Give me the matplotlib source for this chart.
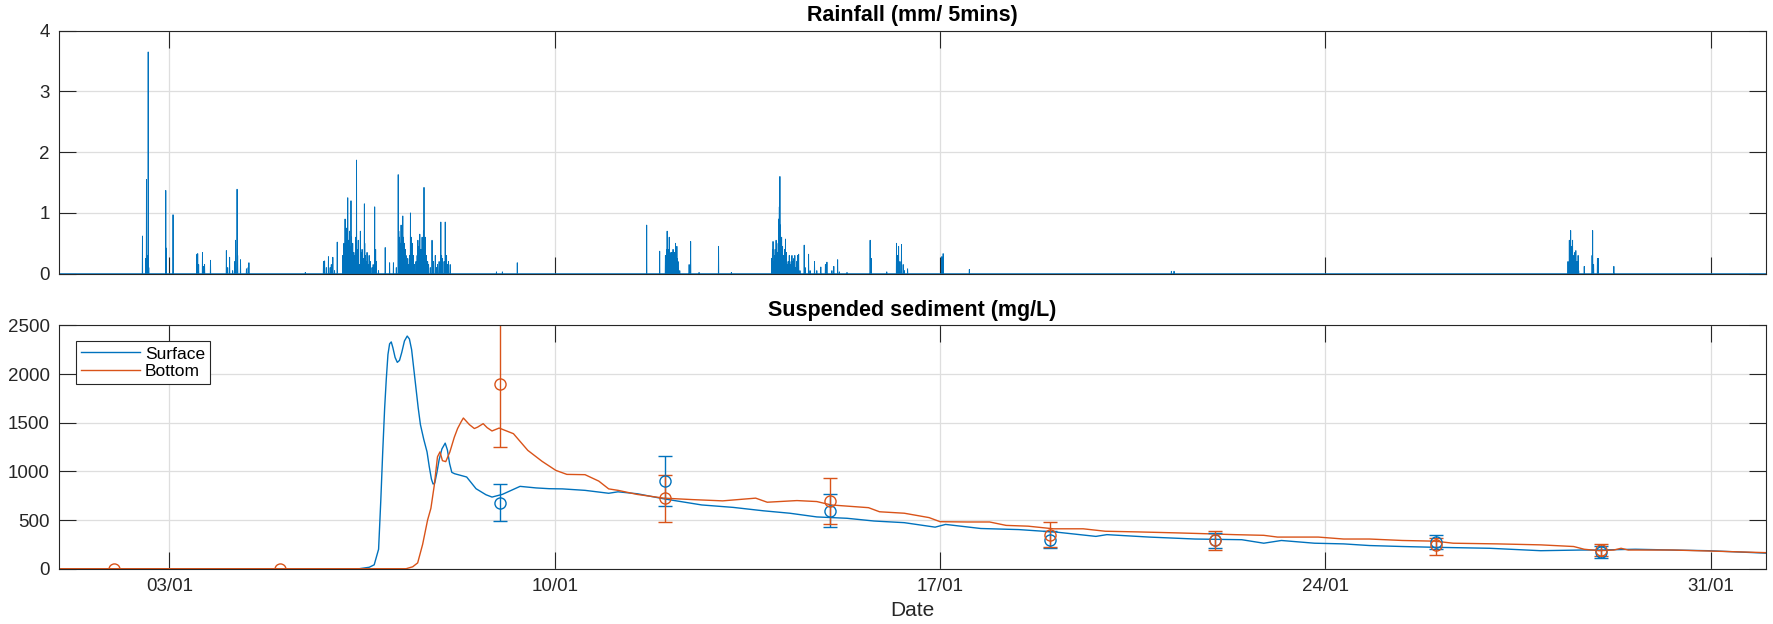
import numpy as np
import matplotlib
matplotlib.use("Agg")
import matplotlib.pyplot as plt
import matplotlib.dates as mdates

# ---------------- data (times = days since 01/01 00:00) ----------------
start = np.datetime64("2016-01-01T00:00")

rain_days = [
    1.512, 1.570, 1.585, 1.600, 1.614, 1.625, 1.935, 1.945, 2.067,
    2.500, 2.515, 2.530, 2.600, 2.620, 2.640, 2.745,
    3.035, 3.060, 3.095, 3.150, 3.186, 3.200, 3.228, 3.240, 3.290, 3.400, 3.430, 3.445,
    4.470,
    4.80, 4.82, 4.85, 4.89, 4.92, 4.94, 4.97, 5.00, 5.05,
    5.15, 5.17, 5.19, 5.20, 5.22, 5.24, 5.25, 5.27, 5.28, 5.30, 5.31, 5.33, 5.35, 5.37,
    5.385, 5.40, 5.41, 5.43, 5.45, 5.47, 5.485, 5.50, 5.52, 5.54, 5.55, 5.56, 5.575,
    5.59, 5.61, 5.63, 5.65, 5.68, 5.70, 5.73, 5.745, 5.76, 5.80,
    5.92, 6.00, 6.07, 6.12,
    6.155, 6.165, 6.18, 6.195, 6.21, 6.225, 6.24, 6.255, 6.27, 6.285, 6.30, 6.315, 6.33,
    6.35, 6.365, 6.38, 6.395, 6.41, 6.43, 6.45, 6.48, 6.50, 6.515, 6.53, 6.55, 6.565,
    6.58, 6.59, 6.60, 6.615, 6.625, 6.635, 6.65, 6.67, 6.69, 6.71, 6.74, 6.77, 6.785,
    6.80, 6.83, 6.85, 6.87, 6.90, 6.915, 6.93, 6.945, 6.96, 6.99, 7.01, 7.02, 7.035,
    7.05, 7.07, 7.10,
    7.94, 8.05, 8.32,
    10.67, 10.905,
    11.01, 11.02, 11.03, 11.04, 11.05, 11.06, 11.07, 11.08, 11.09, 11.10, 11.11, 11.12,
    11.13, 11.14, 11.15, 11.16, 11.17, 11.18, 11.195, 11.21, 11.22, 11.23, 11.24, 11.27,
    11.44, 11.47, 11.62, 11.975, 12.21,
    12.94, 12.955, 12.965, 12.98, 12.995, 13.005, 13.02, 13.03, 13.045, 13.06, 13.07,
    13.08, 13.09, 13.10, 13.11, 13.12, 13.13, 13.14, 13.15, 13.16, 13.175, 13.19, 13.20,
    13.21, 13.225, 13.24, 13.25, 13.26, 13.27, 13.285, 13.30, 13.31, 13.32, 13.33,
    13.345, 13.36, 13.37, 13.38, 13.395, 13.41, 13.42, 13.43, 13.455,
    13.53, 13.55, 13.61, 13.64, 13.72, 13.76, 13.835, 13.915, 13.945, 14.035, 14.07,
    14.14, 14.17, 14.31,
    14.73, 14.75, 15.03,
    15.21, 15.23, 15.245, 15.27, 15.30, 15.33, 15.35, 15.41,
    16.03, 16.055, 16.53,
    20.20, 20.25,
    27.405, 27.43, 27.44, 27.455, 27.465, 27.475, 27.49, 27.50, 27.51, 27.53, 27.55,
    27.57, 27.59, 27.60, 27.70, 27.845, 27.855, 27.87, 27.94, 27.96, 28.24,
]
rain_mm = [
    0.62, 0.25, 1.55, 0.30, 3.65, 0.10, 1.37, 0.42, 0.97,
    0.32, 0.33, 0.15, 0.35, 0.12, 0.15, 0.22,
    0.38, 0.10, 0.27, 0.05, 0.20, 0.55, 1.39, 0.30, 0.23, 0.08, 0.10, 0.18,
    0.02,
    0.20, 0.21, 0.10, 0.28, 0.10, 0.15, 0.27, 0.05, 0.52,
    0.30, 0.50, 0.90, 0.60, 0.75, 1.25, 0.55, 0.70, 0.45, 1.20, 0.60, 0.50, 0.35, 0.30,
    0.60, 1.87, 0.40, 0.55, 0.15, 0.70, 0.35, 0.40, 0.25, 1.15, 0.50, 0.30, 0.20,
    0.35, 0.15, 0.30, 0.20, 0.10, 0.15, 1.10, 0.40, 0.20, 0.05,
    0.43, 0.18, 0.18, 0.10,
    1.63, 0.70, 0.60, 0.50, 0.80, 0.45, 0.95, 0.60, 0.50, 0.40, 0.30, 0.20, 0.25,
    0.15, 0.30, 1.00, 0.60, 0.50, 0.30, 0.15, 0.20, 0.30, 0.55, 0.45, 0.65, 0.40,
    0.40, 0.60, 0.55, 0.70, 1.42, 0.50, 0.60, 0.30, 0.20, 0.15, 0.10, 0.55, 0.20,
    0.20, 0.30, 0.10, 0.15, 0.20, 0.10, 0.85, 0.30, 0.25, 0.20, 0.85, 0.30, 0.30,
    0.15, 0.20, 0.15,
    0.03, 0.03, 0.18,
    0.80, 0.37,
    0.30, 0.15, 0.40, 0.70, 0.30, 0.40, 0.25, 0.60, 0.20, 0.30, 0.35, 0.20,
    0.35, 0.25, 0.40, 0.30, 0.20, 0.35, 0.50, 0.30, 0.45, 0.25, 0.20, 0.05,
    0.15, 0.53, 0.02, 0.45, 0.02,
    0.25, 0.40, 0.53, 0.20, 0.30, 0.40, 0.55, 0.30, 0.35, 0.50, 0.90,
    1.10, 1.60, 0.80, 0.50, 0.60, 0.35, 0.45, 0.25, 0.30, 0.40, 0.57, 0.30,
    0.35, 0.15, 0.20, 0.10, 0.30, 0.20, 0.15, 0.10, 0.30, 0.10, 0.20,
    0.25, 0.30, 0.10, 0.10, 0.20, 0.30, 0.15, 0.32, 0.05,
    0.47, 0.10, 0.32, 0.05, 0.20, 0.05, 0.11, 0.15, 0.19, 0.05, 0.12,
    0.23, 0.03, 0.02,
    0.55, 0.25, 0.03,
    0.50, 0.30, 0.45, 0.20, 0.48, 0.15, 0.05, 0.08,
    0.28, 0.33, 0.07,
    0.04, 0.04,
    0.20, 0.55, 0.40, 0.71, 0.45, 0.40, 0.55, 0.30, 0.20, 0.35, 0.38,
    0.20, 0.30, 0.05, 0.12, 0.30, 0.71, 0.15, 0.25, 0.25, 0.12,
]

surf_days = [0.0, 5.45, 5.63, 5.72, 5.80, 5.84, 5.875, 5.91, 5.94, 5.97, 6.00, 6.03,
             6.06, 6.10, 6.14, 6.18, 6.22, 6.27, 6.32, 6.36, 6.40, 6.44, 6.48, 6.52,
             6.56, 6.62, 6.68, 6.72, 6.76, 6.79, 6.82, 6.86, 6.90, 6.95, 7.01, 7.05,
             7.09, 7.13, 7.18, 7.40, 7.57, 7.75, 7.86, 8.05, 8.37, 8.66, 8.90, 9.14,
             9.55, 9.98, 10.15, 10.50, 10.98, 11.67, 12.24, 12.79, 13.27, 13.76,
             14.31, 14.80, 15.35, 15.91, 16.10, 16.74, 17.43, 18.13, 18.83, 19.03,
             19.80, 20.63, 21.48, 21.88, 22.20, 22.80, 23.33, 23.80, 24.40, 24.99,
             25.98, 26.91, 27.64, 27.97, 28.63, 29.30, 29.96, 31.0]
surf_mgl = [0, 0, 15, 40, 200, 700, 1200, 1650, 1950, 2200, 2310, 2330,
            2270, 2170, 2120, 2140, 2220, 2340, 2390, 2360, 2250, 2050, 1850, 1650,
            1480, 1330, 1200, 1050, 920, 870, 880, 990, 1120, 1230, 1290, 1220,
            1080, 990, 976, 942, 822, 760, 736, 764, 846, 830, 822, 820,
            805, 775, 790, 770, 718, 655, 630, 595, 570, 532,
            518, 490, 473, 427, 455, 413, 402, 375, 332, 350,
            325, 305, 298, 262, 290, 262, 255, 238, 228, 220,
            210, 185, 192, 192, 200, 192, 185, 160]

bot_days = [0.0, 6.30, 6.42, 6.51, 6.60, 6.69, 6.75, 6.81, 6.87, 6.915, 6.96, 7.02,
            7.095, 7.175, 7.235, 7.30, 7.34, 7.45, 7.54, 7.60, 7.70, 7.77, 7.86, 7.99,
            8.25, 8.51, 8.77, 9.02, 9.22, 9.55, 9.80, 9.98, 10.15, 10.50, 10.98, 11.50,
            12.05, 12.65, 12.86, 13.40, 13.76, 14.02, 14.70, 14.90, 15.35, 15.80, 16.00,
            16.50, 16.90, 17.20, 17.60, 18.06, 18.60, 19.00, 19.60, 20.30, 20.68, 21.35,
            21.88, 22.13, 22.87, 23.33, 23.80, 24.40, 24.99, 25.32, 26.12, 26.91, 27.51,
            27.70, 27.97, 28.24, 28.37, 28.50, 29.30, 29.96, 31.0]
bot_mgl = [0, 0, 20, 60, 250, 500, 620, 850, 1150, 1200, 1110, 1100,
           1200, 1350, 1440, 1510, 1548, 1480, 1440, 1455, 1490, 1450, 1415, 1445,
           1387, 1216, 1103, 1010, 969, 966, 900, 820, 805, 763, 725, 710,
           697, 725, 683, 700, 690, 655, 627, 585, 570, 525, 483,
           480, 480, 445, 437, 410, 410, 385, 378, 368, 362, 350,
           343, 325, 325, 305, 305, 290, 283, 262, 255, 245, 228,
           200, 185, 192, 210, 192, 192, 182, 165]

samp_days = [1.0, 4.0, 8.0, 11.0, 14.0, 18.0, 21.0, 25.0, 28.0]
samp_surf_days = [8.0, 11.0, 14.0, 18.0, 21.0, 25.0, 28.0]
samp_surf = [680, 900, 595, 300, 290, 278, 168]
samp_surf_lo = [490, 645, 430, 210, 215, 205, 110]
samp_surf_hi = [872, 1155, 763, 390, 370, 350, 232]
samp_bot = [0, 0, 1895, 725, 693, 345, 298, 240, 195]
samp_bot_lo = [0, 0, 1255, 477, 455, 225, 195, 145, 128]
samp_bot_hi = [0, 0, 2650, 964, 928, 485, 385, 320, 256]

# ---------------- build series ----------------
def to_dt(days):
    return start + (np.asarray(days) * 86400).round().astype("timedelta64[s]")

n5 = 31 * 288 + 1
rain_grid = np.zeros(n5)
for d, v in zip(rain_days, rain_mm):
    i = int(round(d * 288))
    rain_grid[i] = max(rain_grid[i], v)
rain_t = start + np.arange(n5) * np.timedelta64(5, "m")

blue = "#0072BD"
orange = "#D95319"
dark = "#262626"
gridc = "#DEDEDE"

plt.rcParams["font.family"] = ["Liberation Sans", "DejaVu Sans"]

fig = plt.figure(figsize=(17.73, 6.24), dpi=100)
ax1 = fig.add_axes([0.03345, 0.5614, 0.9625, 0.3894])
ax2 = fig.add_axes([0.03345, 0.0886, 0.9625, 0.3900])

xmin = start
xmax = start + np.timedelta64(31, "D")

ax1.plot(rain_t, rain_grid, color=blue, lw=0.65)
ax1.set_ylim(0, 4)
ax1.set_yticks([0, 1, 2, 3, 4])
ax1.set_title("Rainfall (mm/ 5mins)", fontsize=15.5, fontweight="bold", pad=7, color="black")

ax2.plot(to_dt(surf_days), surf_mgl, color=blue, lw=1.0, label="Surface")
ax2.plot(to_dt(bot_days), bot_mgl, color=orange, lw=1.0, label="Bottom")

sv = np.array(samp_surf)
ax2.errorbar(to_dt(samp_surf_days), sv,
             yerr=[sv - np.array(samp_surf_lo), np.array(samp_surf_hi) - sv],
             fmt="o", color=blue, mfc="none", ms=8, mew=1.0, elinewidth=1.0,
             capsize=5, capthick=1.0)
bv = np.array(samp_bot)
ax2.errorbar(to_dt(samp_days), bv,
             yerr=[bv - np.array(samp_bot_lo), np.array(samp_bot_hi) - bv],
             fmt="o", color=orange, mfc="none", ms=8, mew=1.0, elinewidth=1.0,
             capsize=5, capthick=1.0)
ax2.set_ylim(0, 2500)
ax2.set_yticks([0, 500, 1000, 1500, 2000, 2500])
ax2.set_title("Suspended sediment (mg/L)", fontsize=15.5, fontweight="bold", pad=7, color="black")
ax2.set_xlabel("Date", fontsize=15, color=dark, labelpad=4)

leg = ax2.legend(loc="upper left", bbox_to_anchor=(0.0095, 0.935), fontsize=12.5,
                 frameon=True, fancybox=False, framealpha=1, edgecolor=dark,
                 handlelength=3.4, handletextpad=0.3, borderpad=0.3,
                 labelspacing=0.12, borderaxespad=0)
leg.get_frame().set_linewidth(0.8)

ticks = [start + np.timedelta64(d, "D") for d in (2, 9, 16, 23, 30)]
for ax in (ax1, ax2):
    ax.set_xlim(xmin, xmax)
    ax.set_xticks(ticks)
    ax.xaxis.set_major_formatter(mdates.DateFormatter("%d/%m"))
    ax.grid(True, color=gridc, lw=0.9)
    ax.set_axisbelow(True)
    ax.tick_params(direction="in", length=12, width=0.8, colors=dark,
                   labelsize=13.5, top=True, right=True, pad=7)
    for s in ax.spines.values():
        s.set_color(dark)
        s.set_linewidth(0.8)
ax1.tick_params(labelbottom=False)

fig.savefig("out.png", dpi=100)
